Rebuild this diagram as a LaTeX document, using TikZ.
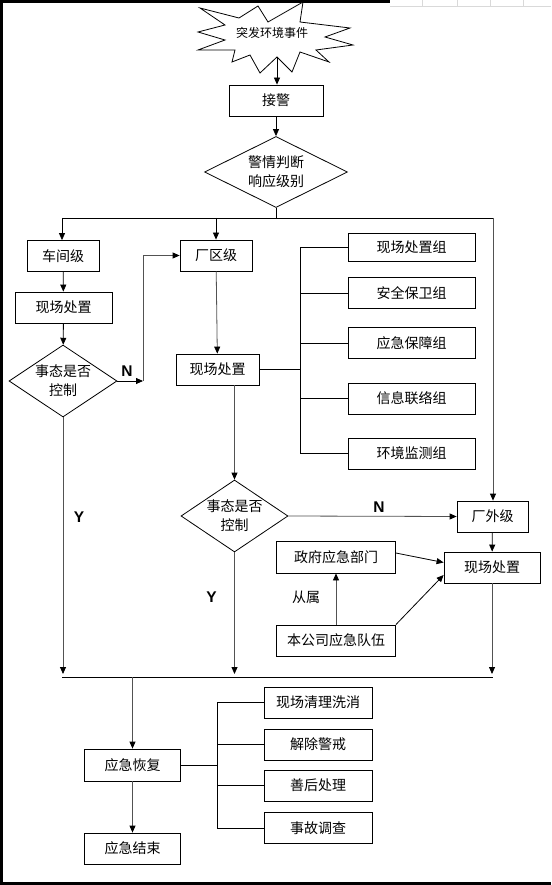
\documentclass[tikz,border=0pt]{standalone}
\usepackage{fontspec}
\setmainfont{Liberation Sans}
\newfontfamily\cjk{Noto Sans CJK SC}
\usetikzlibrary{shapes.geometric,arrows.meta}
\tikzset{
  box/.style={draw, fill=white, inner sep=0pt, minimum height=31pt},
  cond/.style={draw, diamond, inner sep=0pt, align=center, aspect=1.5},
  arr/.style={-{Triangle[length=7pt,width=6pt]}},
  gline/.style={draw=black!68, -{Triangle[length=7pt,width=6pt,color=black]}},
  yn/.style={font=\bfseries\fontsize{15.5}{15.5}\selectfont},
}
\begin{document}
\begin{tikzpicture}[x=1pt,y=-1pt,line width=0.8pt,
    every node/.style={font=\cjk\fontsize{14}{19}\selectfont}]
  \useasboundingbox (0,0) rectangle (551,885);
  \fill[white] (0,0) rectangle (551,885);
  \draw[black!15,line width=0.6pt] (390,6) -- (551,6)
    (422,0) -- (422,6) (457,0) -- (457,6) (490,0) -- (490,6) (523,0) -- (523,6);
  \draw[line width=3pt] (0,1.2) -- (390,1.2);
  \draw[line width=3pt] (1.5,0) -- (1.5,885);
  \draw[line width=3pt] (0,883.5) -- (551,883.5);
  \draw[fill=white] (200,8) -- (239,18) -- (258,6) -- (268,22) -- (303,2) -- (300,22)
    -- (350,28) -- (325,37) -- (353,45) -- (316,50) -- (329,62) -- (300,52)
    -- (292,72) -- (277,57) -- (260,73) -- (250,55) -- (232,62) -- (235,50)
    -- (198,50) -- (225,40) -- (198,32) -- (225,25) -- cycle;
  \node (evt) at (272,33) {\fontsize{12}{12}\selectfont 突发环境事件};
  \coordinate (sb) at (277,57);
  \node[box, minimum width=94pt] (jj) at (276,100.5) {接警};
  \node[cond, aspect=2, minimum width=143pt, minimum height=71pt] (d0) at (276,172) {警情判断\\响应级别};
  \node[box, minimum width=72pt] (cj) at (63,256) {车间级};
  \node[box, minimum width=97pt] (xc1) at (63.5,307.5) {现场处置};
  \node[cond, minimum width=108pt, minimum height=72pt] (d1) at (63,381) {事态是否\\控制};
  \node[box, minimum width=72pt] (cq) at (216,255.5) {厂区级};
  \node[box, minimum width=83pt] (xc2) at (217.5,369.5) {现场处置};
  \node[box, minimum width=127pt, minimum height=28pt] (g1) at (411.5,247.5) {现场处置组};
  \node[box, minimum width=127pt] (g2) at (411.5,293) {安全保卫组};
  \node[box, minimum width=127pt] (g3) at (411.5,343) {应急保障组};
  \node[box, minimum width=127pt] (g4) at (411.5,398.5) {信息联络组};
  \node[box, minimum width=127pt] (g5) at (411.5,453.5) {环境监测组};
  \node[cond, minimum width=107pt, minimum height=72pt] (d2) at (234.5,516) {事态是否\\控制};
  \node[box, minimum width=71pt] (cw) at (492.5,516.5) {厂外级};
  \node[box, minimum width=96pt] (xc3) at (492,567.5) {现场处置};
  \node[box, minimum width=119pt, minimum height=32pt] (zf) at (336,557) {政府应急部门};
  \node[box, minimum width=119pt] (bg) at (336,640.5) {本公司应急队伍};
  \node[box, minimum width=96pt, minimum height=32pt] (hf) at (132.5,765) {应急恢复};
  \node[box, minimum width=96pt] (js) at (132.5,848.5) {应急结束};
  \node[box, minimum width=108pt] (r1) at (318,702.5) {现场清理洗消};
  \node[box, minimum width=108pt] (r2) at (318,744.5) {解除警戒};
  \node[box, minimum width=108pt] (r3) at (318,785.5) {善后处理};
  \node[box, minimum width=108pt] (r4) at (318,828) {事故调查};
  \node[yn] (n1) at (127,371) {N};
  \node[yn] (n2) at (379,507) {N};
  \node[yn] (y1) at (79,517) {Y};
  \node[yn] (y2) at (211.5,597) {Y};
  \node (cs) at (306,597) {从属};
  \coordinate (tl) at (62,218);
  \coordinate (tr) at (493,218);
  \coordinate (nb) at (143,381);
  \coordinate (gb) at (300,369.5);
  \coordinate (bl) at (62,677);
  \coordinate (br) at (493,677);
  \coordinate (rb) at (217,765);
  \draw[arr] (sb) -- (sb |- jj.north);
  \draw[arr] (jj) -- (d0);
  \draw (d0.south) -- (d0.south |- tl);
  \draw (tl) -- (tr);
  \draw[arr] (tl) -- (tl |- cj.north);
  \draw[arr] (cq.north |- tl) -- (cq.north);
  \draw[gline] (tr) -- (tr |- cw.north);
  \draw[arr] (cj) -- (xc1);
  \draw[arr] (xc1) -- (d1);
  \draw[arr] (d1.east) -- (nb);
  \draw[gline] (nb) |- (cq.west);
  \draw[gline] (cq) -- (xc2);
  \draw (xc2.east) -- (gb);
  \draw (gb |- g1.west) -- (gb |- g5.west);
  \foreach \g in {g1,g2,g3,g4,g5}
    \draw (gb |- \g.west) -- (\g.west);
  \draw[gline] (d2.north |- xc2.south) -- (d2.north);
  \draw[gline] (d2.east) -- (cw.west);
  \draw[arr] (cw) -- (xc3);
  \draw[arr] ([yshift=4pt]zf.east) -- ([yshift=5pt]xc3.west);
  \draw[gline] (bg) -- (zf);
  \draw[arr] (bg.north east) -- ([yshift=-7.5pt]xc3.west);
  \draw[gline,shorten >=3pt] (d1.south) -- (d1.south |- bl);
  \draw[gline,shorten >=3pt] (d2.south) -- (d2.south |- bl);
  \draw[gline,shorten >=3pt] (xc3.south) -- (xc3.south |- br);
  \draw (bl) -- (br);
  \draw[gline] (hf.north |- bl) -- (hf.north);
  \draw[gline] (hf) -- (js);
  \draw (hf.east) -- (rb);
  \draw (rb |- r1.west) -- (rb |- r4.west);
  \foreach \r in {r1,r2,r3,r4}
    \draw (rb |- \r.west) -- (\r.west);
\end{tikzpicture}
\end{document}
